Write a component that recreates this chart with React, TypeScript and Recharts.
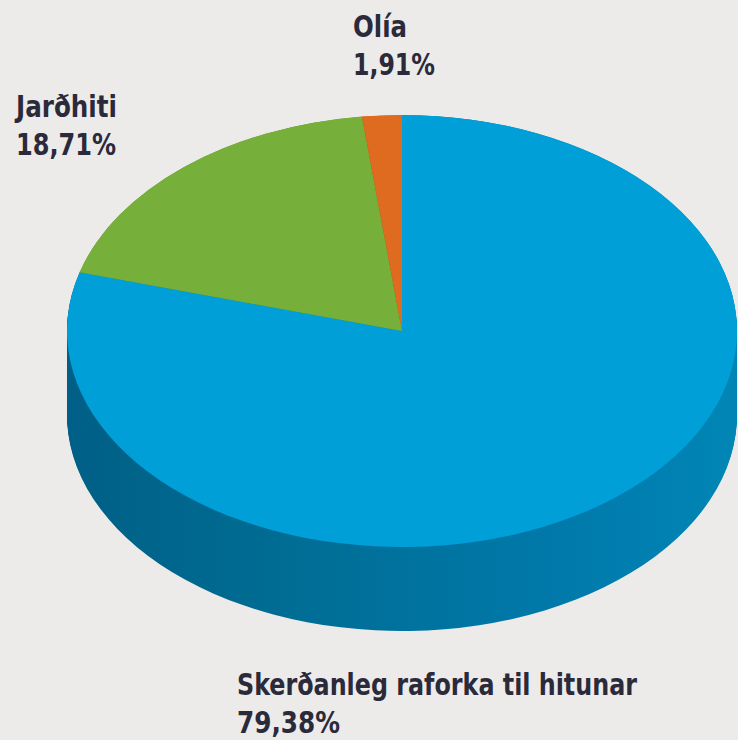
import React from 'react';
import { PieChart, Pie, Cell } from 'recharts';

const categories = ['Skerðanleg raforka til hitunar', 'Jarðhiti', 'Olía'];
const values = [79.38, 18.71, 1.91];
const valueLabels = ['79,38%', '18,71%', '1,91%'];
const topColors = ['#019fd8', '#76b03a', '#de6b1f'];
const sideColors = ['url(#sideBlue)', '#5a8a2c', '#a84f15'];

const data = categories.map((name, i) => ({ name, value: values[i] }));

const W = 738;
const H = 740;
const R = 335;
const CX = 402;
const SCALE = 216 / 335;
const CY = 331 / SCALE;
const DEPTH = 84 / SCALE;
const layers: number[] = [];
for (let d = DEPTH; d > 0; d -= 2) layers.push(d);

const labelPos = [
  { x: 237, y: 695, w1: 400, w2: 103 },
  { x: 16, y: 117, w1: 101, w2: 100 },
  { x: 353, y: 37, w1: 54, w2: 82 },
];

export default function App() {
  return (
    <div style={{ position: 'absolute', left: 0, top: 0, width: W, height: H, background: '#ecebea', overflow: 'hidden' }}>
      <div style={{ position: 'absolute', left: 0, top: 0, transform: `scaleY(${SCALE})`, transformOrigin: '0 0' }}>
        <PieChart width={W} height={1000} margin={{ top: 0, right: 0, bottom: 0, left: 0 }}>
          {layers.map((d) => (
            <Pie
              key={`side-${d}`}
              data={data}
              dataKey="value"
              nameKey="name"
              cx={CX}
              cy={CY + d}
              outerRadius={R}
              innerRadius={0}
              startAngle={90}
              endAngle={-270}
              stroke="none"
              isAnimationActive={false}
              label={false}
              labelLine={false}
            >
              {data.map((e, i) => (
                <Cell key={e.name} fill={sideColors[i]} stroke="none" />
              ))}
            </Pie>
          ))}
          <Pie
            data={data}
            dataKey="value"
            nameKey="name"
            cx={CX}
            cy={CY}
            outerRadius={R}
            innerRadius={0}
            startAngle={90}
            endAngle={-270}
            stroke="none"
            isAnimationActive={false}
            label={false}
            labelLine={false}
          >
            {data.map((e, i) => (
              <Cell key={e.name} fill={topColors[i]} stroke="none" />
            ))}
          </Pie>
        </PieChart>
      </div>
      <svg width={W} height={H} style={{ position: 'absolute', left: 0, top: 0 }}>
        <defs>
          <linearGradient id="sideBlue" x1="0" y1="0" x2="1" y2="0">
            <stop offset="0" stopColor="#005f86" />
            <stop offset="0.3" stopColor="#006c93" />
            <stop offset="0.75" stopColor="#007aab" />
            <stop offset="1" stopColor="#0086b6" />
          </linearGradient>
        </defs>
        {categories.map((c, i) => (
          <text
            key={c}
            x={labelPos[i].x}
            y={labelPos[i].y}
            fontFamily="'DejaVu Sans Condensed', 'Open Sans', sans-serif"
            fontWeight="bold"
            fontSize={30}
            fill="#2b2a3a"
          >
            <tspan x={labelPos[i].x} textLength={labelPos[i].w1} lengthAdjust="spacingAndGlyphs">{c}</tspan>
            <tspan x={labelPos[i].x} dy={38} textLength={labelPos[i].w2} lengthAdjust="spacingAndGlyphs">{valueLabels[i]}</tspan>
          </text>
        ))}
      </svg>
    </div>
  );
}
